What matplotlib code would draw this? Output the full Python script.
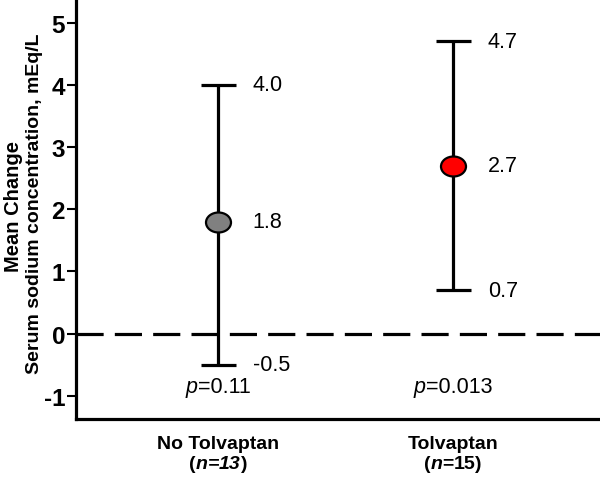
import matplotlib
matplotlib.use("Agg")
import matplotlib.pyplot as plt
from matplotlib.path import Path
from matplotlib.transforms import Affine2D

groups = ["No Tolvaptan", "Tolvaptan"]
n_labels = ["13", "15"]
means = [1.8, 2.7]
lower = [-0.5, 0.7]
upper = [4.0, 4.7]
p_values = ["0.11", "0.013"]
colors = ["#808080", "#ff0000"]
yticks = [-1, 0, 1, 2, 3, 4, 5]

plt.rcParams['font.family'] = ['Liberation Sans', 'DejaVu Sans']

fig = plt.figure(figsize=(6, 4.81), dpi=100)
ax = fig.add_axes([0.127, 0.127, 0.873, 0.869])

ellipse = Path.unit_circle().transformed(Affine2D().scale(1.0, 0.8))

xs = [1, 2]
for x, m, lo, hi, c in zip(xs, means, lower, upper, colors):
    ax.errorbar([x], [m], yerr=[[m - lo], [hi - m]], fmt='none', ecolor='black',
                elinewidth=2.3, capsize=12.6, capthick=2.3, zorder=2)
    ax.plot([x], [m], marker=ellipse, ls='none', ms=18, mfc=c, mec='black',
            mew=1.6, zorder=3)
    for v in (lo, m, hi):
        ax.text(x + 0.148, v, f"{v:.1f}", fontsize=15.5, va='center', ha='left')

ax.axhline(0, color='black', lw=2.3, dashes=(8.5, 3.5), zorder=1)

ax.set_xlim(0.396, 2.626)
ax.set_ylim(-1.37, 5.35)
ax.set_yticks(yticks)
ax.set_yticklabels([str(t) for t in yticks], fontsize=17.5, fontweight='bold')
ax.set_xticks([])
ax.tick_params(axis='y', length=6.5, width=1.5, direction='out', pad=1.5)

for x, g in zip(xs, groups):
    ax.text(x, -1.77, g, fontsize=14, fontweight='bold', ha='center', va='center',
            clip_on=False)

fig.canvas.draw()
renderer = fig.canvas.get_renderer()


def pieced(x, y, pieces, size, weight):
    widths = []
    for s, st in pieces:
        tt = fig.text(0, 0, s, fontsize=size, fontweight=weight, style=st)
        widths.append(tt.get_window_extent(renderer).width)
        tt.remove()
    cx, cy = ax.transData.transform((x, y))
    xd = cx - sum(widths) / 2
    for (s, st), w in zip(pieces, widths):
        dx, dy = ax.transData.inverted().transform((xd, cy))
        ax.text(dx, dy, s, fontsize=size, fontweight=weight, style=st,
                ha='left', va='center', clip_on=False)
        xd += w


for x, p in zip(xs, p_values):
    pieced(x, -0.85, [("p", 'italic'), ("=" + p, 'normal')], 15.5, 'normal')

for x, n, it_num in zip(xs, n_labels, [True, False]):
    num_style = 'italic' if it_num else 'normal'
    pieced(x, -2.08, [("(", 'normal'), ("n", 'italic'), ("=", num_style),
                      (n, num_style), (")", 'normal')], 14, 'bold')

for side in ['top', 'right']:
    ax.spines[side].set_visible(False)
for side in ['left', 'bottom']:
    ax.spines[side].set_linewidth(2.3)

fig.text(0.022, 1 - 206 / 481, "Mean Change", rotation=90, fontsize=14.5,
         fontweight='bold', ha='center', va='center')
fig.text(0.0567, 1 - 204 / 481, "Serum sodium concentration, mEq/L", rotation=90,
         fontsize=14, fontweight='bold', ha='center', va='center')

fig.savefig("out.png", dpi=100)
